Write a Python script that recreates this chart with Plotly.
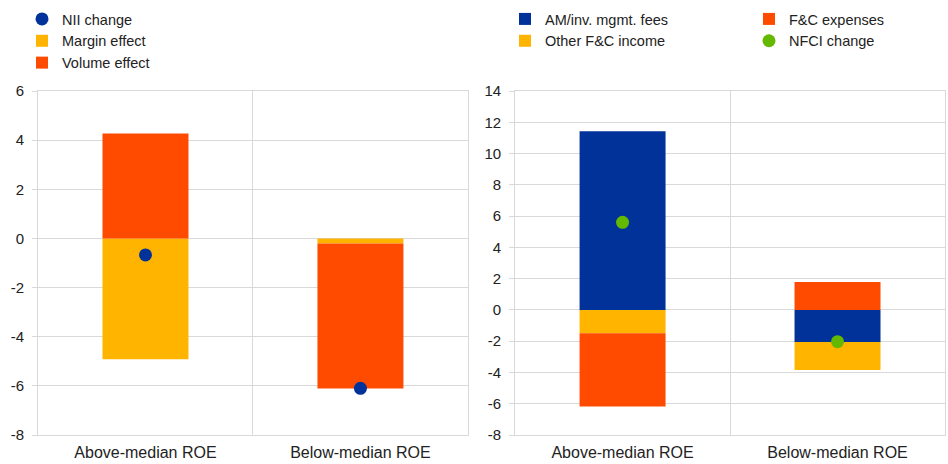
import plotly.graph_objects as go
from plotly.subplots import make_subplots

# data
groups = ["Above-median ROE", "Below-median ROE"]

margin_effect = [-4.92, -0.21]
volume_effect = [4.27, -5.90]
nii_change = [-0.67, -6.10]

am_fees = [11.43, -2.05]
other_fc_income = [-1.49, -1.79]
fc_expenses = [-4.69, 1.79]
nfci_change = [5.60, -2.03]

left_ticks = [-8, -6, -4, -2, 0, 2, 4, 6]
right_ticks = [-8, -6, -4, -2, 0, 2, 4, 6, 8, 10, 12, 14]

BLUE = "#003299"
YELLOW = "#FFB400"
RED = "#FF4B00"
GREEN = "#65B800"
GRID = "#d9d9d9"
TXT = "#222222"

W, H = 948, 464

fig = make_subplots(rows=1, cols=2, horizontal_spacing=0.052)

# left panel
fig.add_trace(go.Bar(x=groups, y=margin_effect, name="Margin effect",
                     marker=dict(color=YELLOW, line_width=0), legend="legend",
                     legendrank=2), row=1, col=1)
fig.add_trace(go.Bar(x=groups, y=volume_effect, name="Volume effect",
                     marker=dict(color=RED, line_width=0), legend="legend",
                     legendrank=3), row=1, col=1)
fig.add_trace(go.Scatter(x=groups, y=nii_change, name="NII change", mode="markers",
                         marker=dict(color=BLUE, size=13), legend="legend",
                         legendrank=1), row=1, col=1)

# right panel
fig.add_trace(go.Bar(x=groups, y=am_fees, name="AM/inv. mgmt. fees",
                     marker=dict(color=BLUE, line_width=0), legend="legend2"),
              row=1, col=2)
fig.add_trace(go.Bar(x=groups, y=other_fc_income, name="Other F&C income",
                     marker=dict(color=YELLOW, line_width=0), legend="legend2"),
              row=1, col=2)
fig.add_trace(go.Bar(x=groups, y=fc_expenses, name="F&C expenses",
                     marker=dict(color=RED, line_width=0), legend="legend3"),
              row=1, col=2)
fig.add_trace(go.Scatter(x=groups, y=nfci_change, name="NFCI change", mode="markers",
                         marker=dict(color=GREEN, size=13), legend="legend3"),
              row=1, col=2)

legend_style = dict(xref="container", yref="container", xanchor="left", yanchor="top",
                    orientation="v", bgcolor="rgba(0,0,0,0)",
                    font=dict(size=14.5, color=TXT), traceorder="normal")

fig.update_layout(
    width=W, height=H,
    margin=dict(l=38, r=3, t=91, b=29, autoexpand=False),
    paper_bgcolor="white", plot_bgcolor="white",
    font=dict(family="Liberation Sans, Arial, sans-serif", size=15, color=TXT),
    barmode="relative", bargap=0.6,
    legend=dict(x=22 / W, y=1 - 3 / H, **legend_style),
    legend2=dict(x=505 / W, y=1 - 3 / H, **legend_style),
    legend3=dict(x=749 / W, y=1 - 3 / H, **legend_style),
)

fig.update_xaxes(tickson="boundaries", showgrid=True, gridcolor=GRID, gridwidth=1,
                 showline=True, linecolor=GRID, mirror=True, ticks="",
                 tickangle=0, ticklabelstandoff=3, tickfont=dict(size=16, color=TXT))
fig.update_yaxes(showgrid=True, gridcolor=GRID, gridwidth=1, zeroline=True,
                 zerolinecolor=GRID, zerolinewidth=1,
                 showline=True, linecolor=GRID, mirror=True,
                 ticks="outside", ticklen=5, tickcolor=GRID, ticklabelstandoff=5,
                 tickfont=dict(size=15, color=TXT))
fig.update_yaxes(range=[-8, 6], tickvals=left_ticks,
                 ticktext=[str(v) for v in left_ticks], row=1, col=1)
fig.update_yaxes(range=[-8, 14], tickvals=right_ticks,
                 ticktext=[str(v) for v in right_ticks], row=1, col=2)

# drop the default page margin so the figure fills the window exactly
fig.write_html("out.html", config={"displayModeBar": False},
               post_script="document.body.style.margin = '0';")
